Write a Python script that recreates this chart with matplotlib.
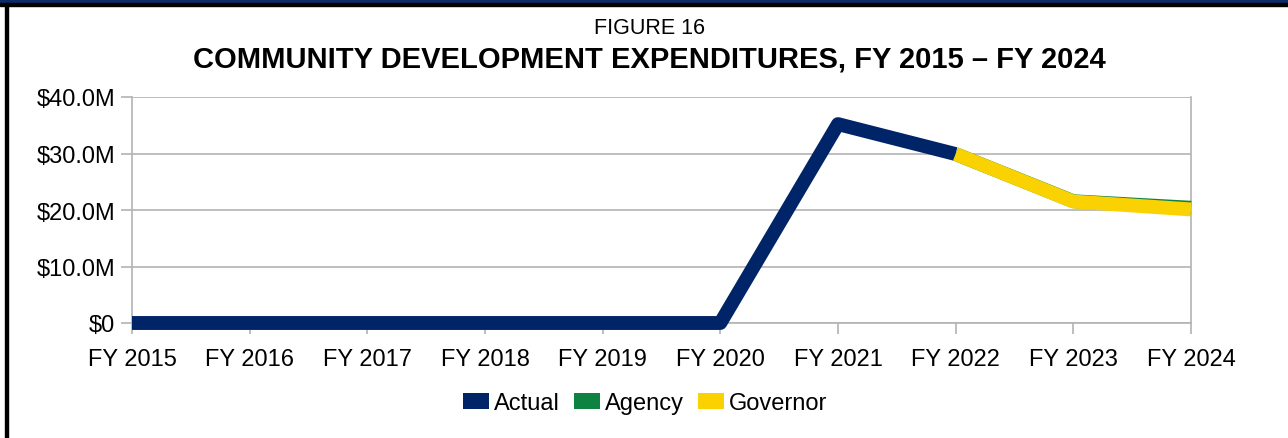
import matplotlib
matplotlib.use("Agg")
import matplotlib.pyplot as plt
from matplotlib.patches import Rectangle, Patch
from matplotlib.ticker import FuncFormatter

plt.rcParams['font.family'] = ['Liberation Sans', 'DejaVu Sans']

years = ["FY 2015", "FY 2016", "FY 2017", "FY 2018", "FY 2019",
         "FY 2020", "FY 2021", "FY 2022", "FY 2023", "FY 2024"]
actual = [0, 0, 0, 0, 0, 0, 35.2, 29.9, None, None]
agency = [None, None, None, None, None, None, None, 29.9, 21.55, 20.4]
governor = [None, None, None, None, None, None, None, 29.9, 21.5, 20.1]

c_actual = "#002468"
c_agency = "#0e8341"
c_gov = "#fad201"

fig = plt.figure(figsize=(12.88, 4.39), dpi=100)
W, H = 1288, 439

# frame
fig.patches.append(Rectangle((0, 1 - 4 / H), 1, 4 / H, transform=fig.transFigure,
                             color="#0a2a6a", zorder=0))
fig.patches.append(Rectangle((0, 1 - 7 / H), 1, 3 / H, transform=fig.transFigure,
                             color="black", zorder=0))
fig.patches.append(Rectangle((5 / W, 0), 3 / W, 1 - 4 / H, transform=fig.transFigure,
                             color="black", zorder=0))

ax = fig.add_axes([132 / W, 1 - 324 / H, (1191 - 132) / W, (324 - 98) / H])

x = list(range(len(years)))

def seg(vals):
    xs = [i for i, v in zip(x, vals) if v is not None]
    ys = [v for v in vals if v is not None]
    return xs, ys

for vals, c in [(actual, c_actual), (agency, c_agency), (governor, c_gov)]:
    xs, ys = seg(vals)
    ax.plot(xs, ys, color=c, lw=10, solid_joinstyle="round", solid_capstyle="butt",
            clip_on=False, zorder=3)

ax.set_xlim(0, 9)
ax.set_ylim(0, 40)
ax.set_yticks([0, 10, 20, 30, 40])
ax.yaxis.set_major_formatter(FuncFormatter(lambda v, p: "$0" if v == 0 else f"${v:.1f}M"))
ax.set_xticks(x)
ax.set_xticklabels(years)
ax.grid(axis="y", color="#b3b3b3", lw=1.2)
ax.set_axisbelow(True)
for s in ax.spines.values():
    s.set_color("#b3b3b3")
    s.set_linewidth(1.2)
ax.spines["top"].set_visible(False)
ax.tick_params(axis="both", colors="#b3b3b3", length=8, width=1.2, labelsize=17,
               labelcolor="black")
ax.tick_params(axis="y", pad=4)
ax.tick_params(axis="x", pad=10)

fig.text(650 / W, 1 - 28 / H, "FIGURE 16", ha="center", va="center", fontsize=15.5)
fig.text(649 / W, 1 - 60 / H, "COMMUNITY DEVELOPMENT EXPENDITURES, FY 2015 \u2013 FY 2024",
         ha="center", va="center", fontsize=21, fontweight="bold")

handles = [Patch(facecolor=c_actual, label="Actual"),
           Patch(facecolor=c_agency, label="Agency"),
           Patch(facecolor=c_gov, label="Governor")]
fig.legend(handles=handles, loc="center", bbox_to_anchor=(645 / W, 1 - 404 / H), ncol=3,
           frameon=False, fontsize=17, handlelength=1.1, handleheight=0.68,
           handletextpad=0.2, columnspacing=0.6)

fig.savefig("out.png", dpi=100)
